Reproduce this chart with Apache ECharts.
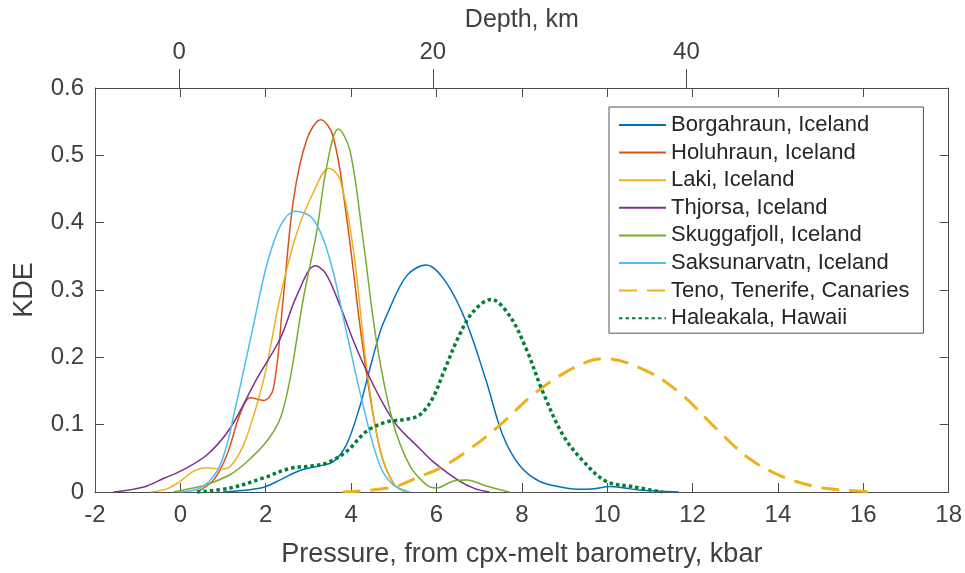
<!DOCTYPE html>
<html>
<head>
<meta charset="utf-8">
<script src="https://cdn.jsdelivr.net/npm/echarts@6/dist/echarts.min.js"></script>
<style>
  html, body { margin: 0; padding: 0; background: #fff; }
  #chart { width: 965px; height: 573px; }
</style>
</head>
<body>
<div id="chart"></div>
<script>
// KDE curves: [pressure kbar, density]
const borgahraun = [[1.0, 0], [1.56, 0.003], [1.95, 0.007], [2.34, 0.018], [2.8, 0.032], [3.27, 0.039], [3.58, 0.045], [3.89, 0.07], [4.21, 0.128], [4.36, 0.164], [4.67, 0.236], [4.83, 0.262], [5.3, 0.321], [5.76, 0.337], [6.23, 0.311], [6.7, 0.252], [7.17, 0.164], [7.55, 0.085], [7.94, 0.04], [8.41, 0.016], [9.03, 0.006], [9.35, 0.004], [9.7, 0.005], [10.05, 0.008], [10.4, 0.006], [10.75, 0.003], [11.68, 0]]
const holuhraun = [[0.39, 0], [0.78, 0.018], [1.09, 0.055], [1.4, 0.116], [1.64, 0.14], [1.95, 0.136], [2.18, 0.154], [2.41, 0.287], [2.65, 0.434], [2.96, 0.523], [3.29, 0.553], [3.58, 0.528], [3.89, 0.41], [4.28, 0.213], [4.67, 0.065], [5.0, 0.012], [5.3, 0]]
const laki = [[-0.7, 0], [-0.3, 0.005], [0, 0.016], [0.31, 0.031], [0.62, 0.036], [0.93, 0.034], [1.17, 0.038], [1.48, 0.07], [1.79, 0.129], [2.0, 0.18], [2.34, 0.29], [2.73, 0.385], [3.11, 0.444], [3.48, 0.481], [3.74, 0.464], [4.05, 0.361], [4.36, 0.188], [4.67, 0.065], [5.0, 0.012], [5.3, 0]]
const thjorsa = [[-1.57, 0], [-1.2, 0.003], [-0.78, 0.009], [-0.4, 0.02], [0, 0.031], [0.62, 0.055], [1.17, 0.095], [1.79, 0.168], [2.34, 0.228], [2.73, 0.292], [3.16, 0.336], [3.4, 0.325], [3.74, 0.277], [4.05, 0.225], [4.36, 0.18], [4.7, 0.137], [5.06, 0.1], [5.6, 0.065], [5.92, 0.045], [6.54, 0.016], [6.9, 0.005], [7.24, 0]]
const skuggafjoll = [[-0.16, 0], [0.3, 0.006], [0.62, 0.011], [1.17, 0.026], [1.56, 0.045], [2.02, 0.075], [2.34, 0.109], [2.57, 0.168], [2.88, 0.287], [3.19, 0.385], [3.43, 0.484], [3.7, 0.539], [3.97, 0.508], [4.28, 0.375], [4.6, 0.222], [4.98, 0.104], [5.37, 0.04], [5.76, 0.011], [6.0, 0.006], [6.38, 0.016], [6.7, 0.018], [7.17, 0.009], [7.71, 0]]
const saksunarvatn = [[-0.07, 0], [0.47, 0.006], [0.86, 0.031], [1.09, 0.07], [1.25, 0.114], [1.44, 0.168], [1.71, 0.247], [2.02, 0.336], [2.34, 0.395], [2.69, 0.417], [3.11, 0.405], [3.5, 0.346], [3.89, 0.238], [4.28, 0.129], [4.67, 0.04], [4.98, 0.011], [5.37, 0]]
const teno = [[3.8, 0], [4.98, 0.007], [5.53, 0.021], [6.07, 0.035], [6.7, 0.06], [7.48, 0.099], [8.25, 0.144], [9.03, 0.178], [9.66, 0.196], [9.97, 0.198], [10.98, 0.178], [11.76, 0.144], [12.54, 0.095], [13.32, 0.05], [14.1, 0.023], [14.88, 0.008], [15.5, 0.003], [16.28, 0]]
const haleakala = [[0.39, 0], [1.17, 0.006], [1.95, 0.021], [2.57, 0.035], [3.11, 0.039], [3.43, 0.043], [3.89, 0.06], [4.36, 0.09], [4.83, 0.104], [5.3, 0.108], [5.6, 0.114], [5.9, 0.138], [6.2, 0.183], [6.5, 0.228], [6.85, 0.267], [7.28, 0.286], [7.71, 0.262], [8.1, 0.213], [8.49, 0.149], [8.96, 0.085], [9.42, 0.047], [9.97, 0.016], [10.59, 0.008], [11.29, 0]]

const seriesNames = ['Borgahraun, Iceland', 'Holuhraun, Iceland', 'Laki, Iceland', 'Thjorsa, Iceland', 'Skuggafjoll, Iceland', 'Saksunarvatn, Iceland', 'Teno, Tenerife, Canaries', 'Haleakala, Hawaii']
const depthTicks = [0, 20, 40]

const font = "'Liberation Sans', Helvetica, Arial, sans-serif"
const axisColor = '#4d4d4d'
const textColor = '#404040'

// depth axis is a linear rescale of pressure, read from where 0/20/40 km sit
const depthMin = -6.63
const depthMax = 60.67

const chart = echarts.init(document.getElementById('chart'))

const boxAxis = {
  axisLine: { show: true, onZero: false, lineStyle: { color: axisColor, width: 1 } },
  axisTick: { show: true, inside: true, length: 9, lineStyle: { color: axisColor } },
  splitLine: { show: false }
}

function curve (name, data, color, width, type) {
  return {
    name,
    type: 'line',
    data,
    xAxisIndex: 0,
    yAxisIndex: 0,
    symbol: 'none',
    showSymbol: false,
    smooth: 0.35,
    lineStyle: { color, width, type, cap: 'butt' },
    itemStyle: { color }
  }
}

chart.setOption({
  animation: false,
  textStyle: { fontFamily: font },
  grid: { left: 95, right: 14, top: 88, bottom: 79 },
  legend: {
    orient: 'vertical',
    left: 609,
    top: 107,
    padding: [6, 14, 3, 9],
    itemWidth: 47,
    itemHeight: 14,
    itemGap: 3.6,
    backgroundColor: '#fff',
    borderColor: '#555',
    borderWidth: 1,
    itemStyle: { opacity: 0 },
    textStyle: { fontFamily: font, fontSize: 22, color: '#262626', lineHeight: 24 },
    data: seriesNames
  },
  xAxis: [
    Object.assign({}, boxAxis, {
      type: 'value',
      position: 'bottom',
      min: -2,
      max: 18,
      interval: 2,
      axisLabel: { fontFamily: font, fontSize: 24, color: textColor, margin: 11 },
      name: 'Pressure, from cpx-melt barometry, kbar',
      nameLocation: 'middle',
      nameGap: 49,
      nameTextStyle: { fontFamily: font, fontSize: 27, color: textColor }
    }),
    Object.assign({}, boxAxis, {
      type: 'value',
      position: 'top',
      min: -2,
      max: 18,
      interval: 2,
      axisLabel: { show: false }
    }),
    {
      type: 'value',
      position: 'top',
      min: depthMin,
      max: depthMax,
      axisLine: { show: false, onZero: false },
      splitLine: { show: false },
      axisTick: { show: true, inside: false, length: 19, customValues: depthTicks, lineStyle: { color: axisColor } },
      axisLabel: { fontFamily: font, fontSize: 24, color: textColor, margin: 24, customValues: depthTicks },
      name: 'Depth, km',
      nameLocation: 'middle',
      nameGap: 55,
      nameTextStyle: { fontFamily: font, fontSize: 25, color: textColor }
    }
  ],
  yAxis: [
    Object.assign({}, boxAxis, {
      type: 'value',
      position: 'left',
      min: 0,
      max: 0.6,
      interval: 0.1,
      axisLabel: { fontFamily: font, fontSize: 24, color: textColor, margin: 11 },
      name: 'KDE',
      nameLocation: 'middle',
      nameGap: 57,
      nameTextStyle: { fontFamily: font, fontSize: 27, color: textColor }
    }),
    Object.assign({}, boxAxis, {
      type: 'value',
      position: 'right',
      min: 0,
      max: 0.6,
      interval: 0.1,
      axisLabel: { show: false }
    })
  ],
  series: [
    curve(seriesNames[0], borgahraun, '#0072BD', 1.5, 'solid'),
    curve(seriesNames[1], holuhraun, '#D95319', 1.5, 'solid'),
    curve(seriesNames[2], laki, '#EDB120', 1.5, 'solid'),
    curve(seriesNames[3], thjorsa, '#7E2F8E', 1.5, 'solid'),
    curve(seriesNames[4], skuggafjoll, '#77AC30', 1.5, 'solid'),
    curve(seriesNames[5], saksunarvatn, '#4DBEEE', 1.5, 'solid'),
    curve(seriesNames[6], teno, '#EDB120', 3, [18, 10]),
    curve(seriesNames[7], haleakala, '#00803A', 3.5, [3.5, 3])
  ]
})
</script>
</body>
</html>
